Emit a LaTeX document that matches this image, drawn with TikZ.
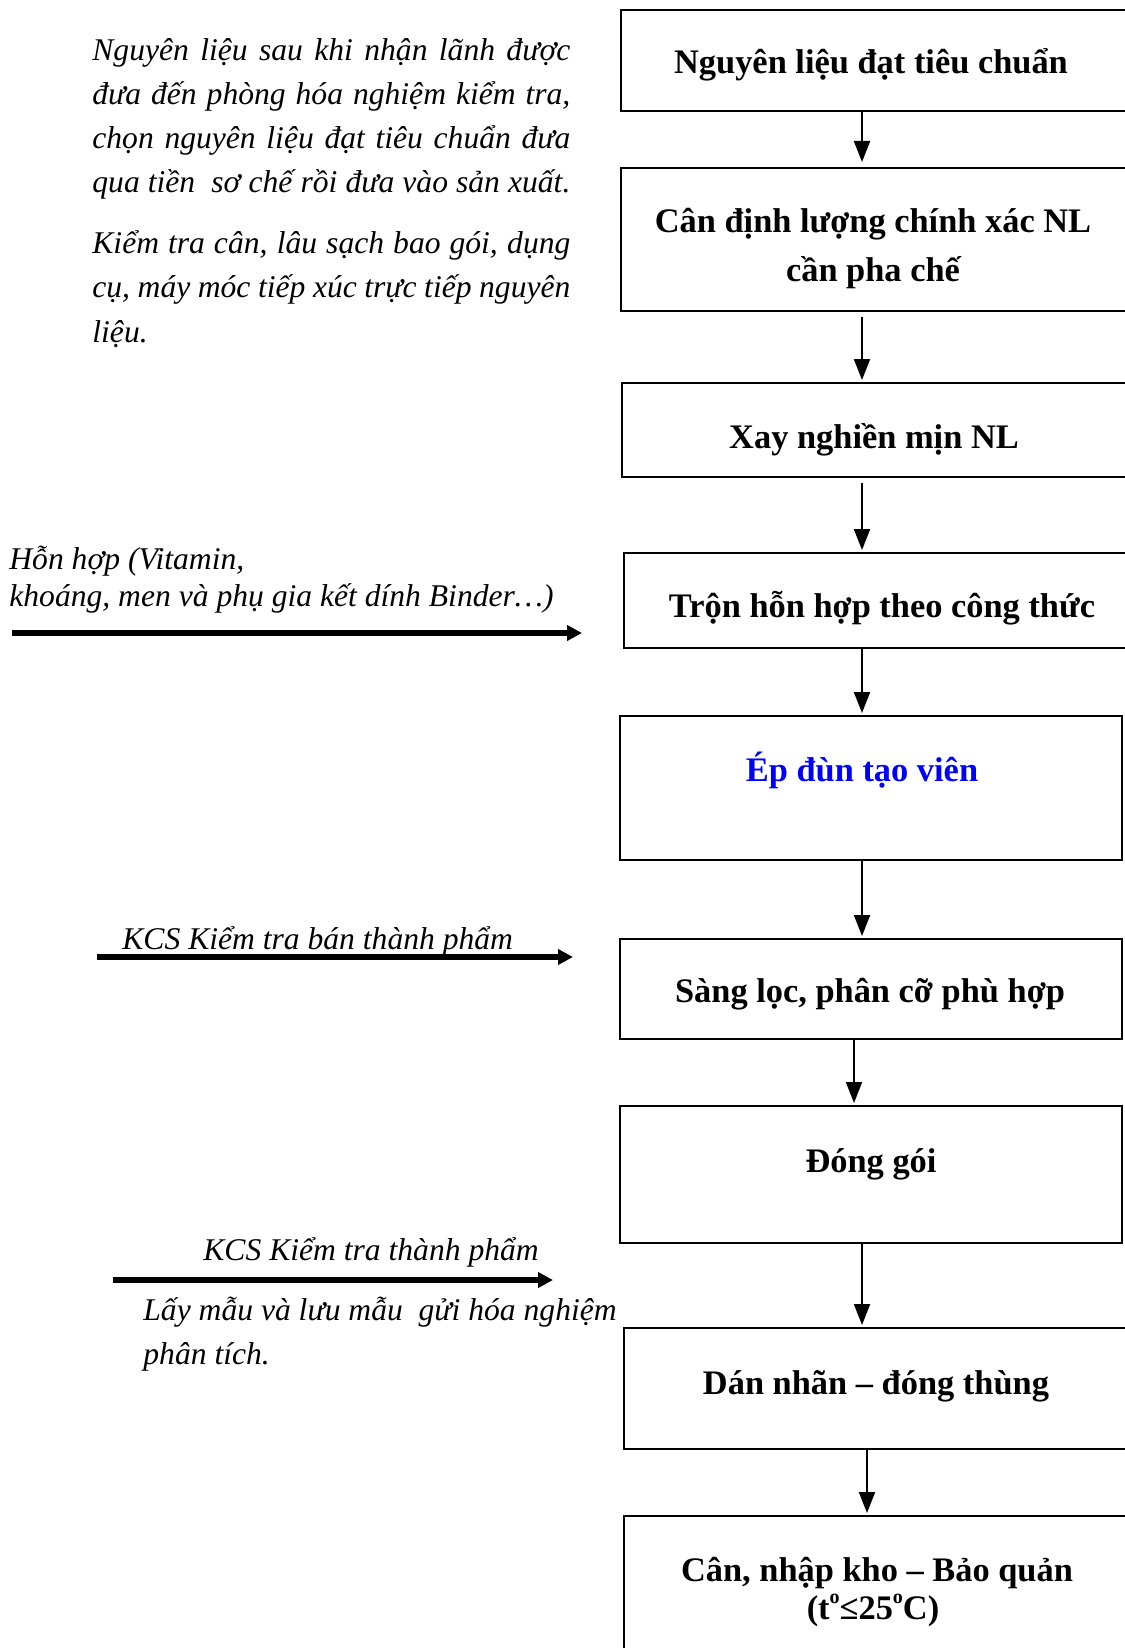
\documentclass[tikz,border=0pt]{standalone}
\usepackage{fontspec}
\setmainfont{Liberation Serif}
\usetikzlibrary{arrows.meta}
\definecolor{stepblue}{RGB}{0,0,255}
\newcommand\jline[1]{\makebox[239pt][s]{#1}}
\begin{document}
\begin{tikzpicture}[x=0.5pt,y=-0.5pt,
  stepbox/.style={draw=black, line width=1.2pt, inner sep=0pt, outer sep=0pt, anchor=north west},
  steptext/.style={font=\fontsize{17.2}{22}\selectfont\bfseries, inner sep=0pt, anchor=base},
  note/.style={font=\fontsize{15.8}{22.5}\selectfont\itshape, inner sep=0pt, anchor=base west},
  flow/.style={line width=1pt, -{Triangle[width=8pt,length=10.5pt]}, shorten >=1.5pt},
  feed/.style={line width=2.8pt, -{Triangle[width=7.5pt,length=7.5pt]}},
]
\path[use as bounding box, fill=white] (0,0) rectangle (1124,1648);

% process steps
\node[stepbox, minimum width=254.5pt, minimum height=50.5pt] (b1) at (621,10) {};
\node[stepbox, minimum width=254.5pt, minimum height=71.5pt] (b2) at (621,168) {};
\node[stepbox, minimum width=254pt, minimum height=47pt] (b3) at (622,383) {};
\node[stepbox, minimum width=258pt, minimum height=47.5pt] (b4) at (624,553) {};
\node[stepbox, minimum width=251pt, minimum height=72pt] (b5) at (620,716) {};
\node[stepbox, minimum width=251pt, minimum height=50pt] (b6) at (620,939) {};
\node[stepbox, minimum width=251pt, minimum height=68.5pt] (b7) at (620,1106) {};
\node[stepbox, minimum width=253pt, minimum height=60.5pt] (b8) at (624,1328) {};
\node[stepbox, minimum width=253pt, minimum height=75pt] (b9) at (624,1516) {};

\node[steptext] (t1) at (871,74) {Nguyên liệu đạt tiêu chuẩn};
\node[steptext] (t2a) at (873,233) {Cân định lượng chính xác NL};
\node[steptext] (t2b) at (873,281) {cần pha chế};
\node[steptext] (t3) at (874,448) {Xay nghiền mịn NL};
\node[steptext] (t4) at (882,617) {Trộn hỗn hợp theo công thức};
\node[steptext, text=stepblue] (t5) at (862,781) {Ép đùn tạo viên};
\node[steptext] (t6) at (870,1002) {Sàng lọc, phân cỡ phù hợp};
\node[steptext] (t7) at (871,1172) {Đóng gói};
\node[steptext] (t8) at (876,1394) {Dán nhãn – đóng thùng};
\node[steptext] (t9a) at (877,1581) {Cân, nhập kho – Bảo quản};
\node[steptext] (t9b) at (873,1619) {(t\raisebox{0.45em}{\fontsize{10}{10}\selectfont o}≤25\raisebox{0.45em}{\fontsize{10}{10}\selectfont o}C)};

% vertical flow
\coordinate (ax) at (862,0);
\coordinate (ax6) at (854,0);
\coordinate (ax8) at (867,0);
\draw[flow, shorten >=3pt] (b1.south -| ax) -- (b2.north -| ax);
\draw[flow, shorten <=3pt] (b2.south -| ax) -- (b3.north -| ax);
\draw[flow, shorten <=3pt] (b3.south -| ax) -- (b4.north -| ax);
\draw[flow] (b4.south -| ax) -- (b5.north -| ax);
\draw[flow] (b5.south -| ax) -- (b6.north -| ax);
\draw[flow] (b6.south -| ax6) -- (b7.north -| ax6);
\draw[flow] (b7.south -| ax) -- (b8.north -| ax);
\draw[flow] (b8.south -| ax8) -- (b9.north -| ax8);

% side notes
\node[note] (n1) at (92,61) {\jline{Nguyên liệu sau khi nhận lãnh được}};
\node[note] (n2) at (92,105) {\jline{đưa đến phòng hóa nghiệm kiểm tra,}};
\node[note] (n3) at (92,149) {\jline{chọn nguyên liệu đạt tiêu chuẩn đưa}};
\node[note] (n4) at (92,193) {\jline{qua tiền\ \ sơ chế rồi đưa vào sản xuất.}};
\node[note] (n5) at (92,254) {\jline{Kiểm tra cân, lâu sạch bao gói, dụng}};
\node[note] (n6) at (92,298) {\jline{cụ, máy móc tiếp xúc trực tiếp nguyên}};
\node[note] (n7) at (92,342) {liệu.};

\node[note] (h1) at (9,569) {Hỗn hợp (Vitamin,};
\node[note] (h2) at (9,606) {khoáng, men và phụ gia kết dính Binder…)};
\coordinate (m0) at (12,633);
\coordinate (m1) at (582,633);
\draw[feed, line width=3pt] (m0) -- (m1);

\node[note] (k1) at (122,949) {KCS Kiểm tra bán thành phẩm};
\coordinate (k0a) at (97,957);
\coordinate (k0b) at (573,957);
\draw[feed] (k0a) -- (k0b);

\node[note] (q1) at (203,1260) {KCS Kiểm tra thành phẩm};
\coordinate (f0) at (113,1280);
\coordinate (f1) at (553,1280);
\draw[feed] (f0) -- (f1);
\node[note] (q2) at (143,1320) {Lấy mẫu và lưu mẫu\ \ gửi hóa nghiệm};
\node[note] (q3) at (143,1364) {phân tích.};
\end{tikzpicture}
\end{document}
